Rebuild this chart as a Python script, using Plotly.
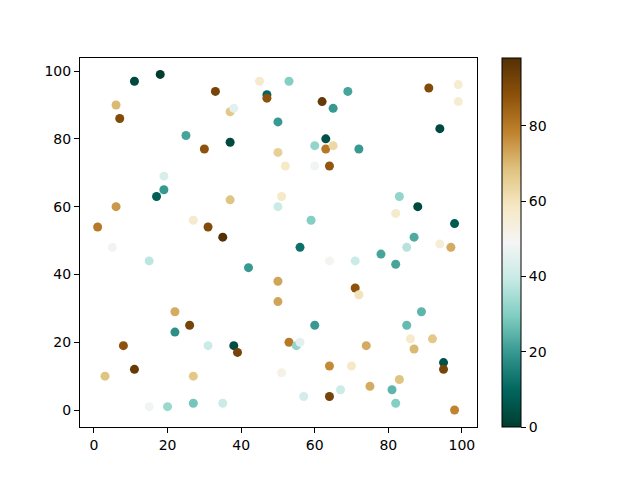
import plotly.graph_objects as go

x_vals = [11, 18, 6, 7, 33, 45, 47, 47, 53, 37, 38, 25, 30, 37, 50, 50, 52, 60, 62, 65,
          69, 63, 63, 65, 60, 64, 72, 91, 99, 99, 94, 19, 19, 17, 6, 1, 5, 15, 27, 37,
          31, 35, 42, 51, 50, 59, 56, 64, 71, 78, 82, 85, 83, 88, 82, 87, 94, 97, 98, 50,
          50, 71, 72, 60, 85, 89, 22, 22, 26, 31, 8, 11, 3, 27, 15, 20, 27, 35, 38, 39,
          51, 53, 55, 56, 57, 64, 70, 74, 64, 67, 75, 81, 82, 83, 86, 87, 92, 95, 95, 98]
y_vals = [97, 99, 90, 86, 94, 97, 93, 92, 97, 88, 89, 81, 77, 79, 85, 76, 72, 78, 91, 89,
          94, 80, 77, 78, 72, 72, 77, 95, 96, 91, 83, 69, 65, 63, 60, 54, 48, 44, 56, 62,
          54, 51, 42, 63, 60, 56, 48, 44, 44, 46, 43, 48, 63, 60, 58, 51, 49, 48, 55, 38,
          32, 36, 34, 25, 25, 29, 29, 23, 25, 19, 19, 12, 10, 10, 1, 1, 2, 2, 19, 17,
          11, 20, 19, 20, 4, 13, 13, 19, 4, 6, 7, 6, 2, 9, 21, 18, 21, 14, 12, 0]
c_vals = [3, 0, 70, 90, 92, 57, 10, 88, 30, 67, 45, 22, 88, 3, 20, 65, 58, 32, 95, 20,
          22, 5, 80, 63, 48, 87, 20, 90, 56, 56, 3, 43, 20, 8, 75, 80, 48, 38, 57, 68,
          90, 98, 20, 58, 40, 30, 12, 50, 40, 22, 22, 37, 32, 3, 57, 23, 55, 72, 7, 73,
          73, 88, 60, 20, 26, 25, 72, 18, 92, 40, 88, 95, 68, 67, 48, 33, 28, 40, 4, 92,
          52, 80, 32, 45, 42, 77, 58, 72, 92, 40, 72, 25, 30, 68, 57, 70, 67, 5, 92, 78]
cbar_ticks = [0, 20, 40, 60, 80]
x_ticks = [0, 20, 40, 60, 80, 100]
y_ticks = [0, 20, 40, 60, 80, 100]

fig = go.Figure(go.Scatter(
    x=x_vals, y=y_vals, mode="markers",
    marker=dict(
        size=9, color=c_vals, colorscale="BrBG", reversescale=True,
        cmin=min(c_vals), cmax=max(c_vals), line=dict(width=0),
        colorbar=dict(
            x=1.063, xanchor="left", xref="paper", y=0.5, yanchor="middle",
            len=1.0, lenmode="fraction", thickness=19, thicknessmode="pixels",
            xpad=0, ypad=0,
            outlinecolor="black", outlinewidth=1,
            tickvals=cbar_ticks, ticks="outside", ticklen=5, tickcolor="black",
            tickfont=dict(family="DejaVu Sans", size=14, color="black"),
        ),
    ),
    showlegend=False,
))

axis_common = dict(
    showgrid=False, zeroline=False, showline=True, mirror=True,
    linecolor="black", linewidth=1, ticks="outside", ticklen=5,
    tickcolor="black", tickfont=dict(family="DejaVu Sans", size=14, color="black"),
)
fig.update_xaxes(range=[-3.8, 104.1], tickvals=x_ticks, **axis_common)
fig.update_yaxes(range=[-5.0, 103.85], tickvals=y_ticks, **axis_common)

# compensate for the 8px default body margin of the page
fig.update_layout(
    width=640, height=480,
    margin=dict(l=72, r=171, t=50, b=61, autoexpand=False),
    plot_bgcolor="white", paper_bgcolor="white",
)

fig.write_html("out.html")
